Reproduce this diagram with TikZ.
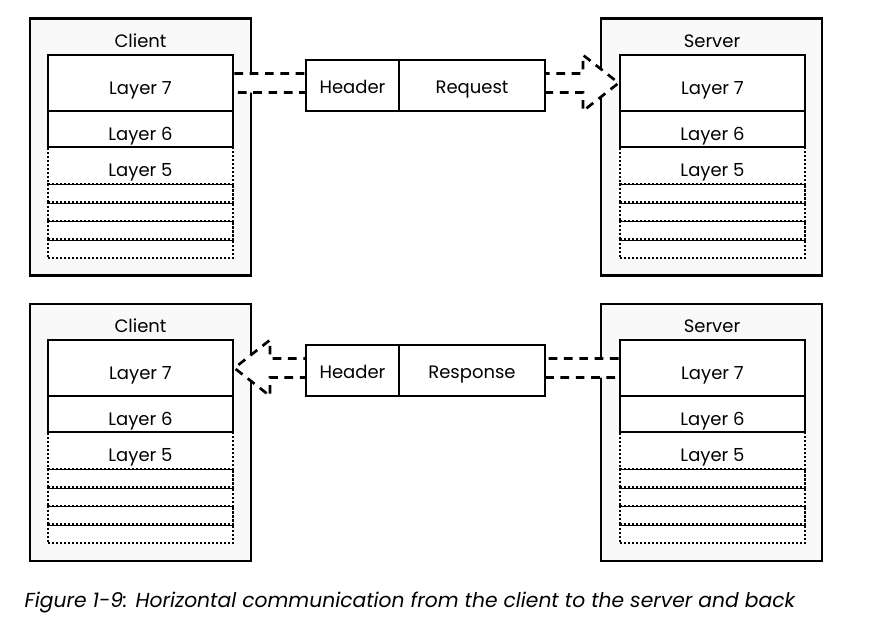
\documentclass[tikz,border=0pt]{standalone}
\usepackage{fontspec}
\setmainfont{Poppins}
\usetikzlibrary{positioning,calc}
\definecolor{boxgray}{HTML}{F9F9F9}
\tikzset{host box/.style={draw,line width=2pt,fill=boxgray,minimum width=165.75pt,minimum height=192.75pt,anchor=north west,outer sep=0pt},
  host title/.style={anchor=base},
  layer base/.style={draw,line width=2pt,fill=white,minimum width=138.75pt,inner sep=0pt,outer sep=0pt},
  layer node/.style={layer base,text height=16.5pt,text depth=0pt},
  dotted layer/.style={layer node,line width=2pt,dash pattern=on 1.6pt off 1.4pt},
  row node/.style={layer base,line width=2pt,dash pattern=on 1.6pt off 1.4pt,minimum height=13.875pt},
  msg node/.style={draw,line width=2pt,fill=white,minimum height=38.25pt,inner sep=0pt,outer sep=0pt,anchor=north west,text height=12.5pt,text depth=0pt},
  flow/.style={draw,fill=white,line width=2pt,dash pattern=on 6.5pt off 5pt},}

\begin{document}
\begin{tikzpicture}[x=0.75pt,y=-0.75pt,font=\fontsize{13.5}{16}\selectfont]
        \useasboundingbox (0,0) rectangle (877,622);
        % Hosts
        \node[host box] (cbox) at (30,18.5) {};
        \node[host box] (sbox) at (601,18.5) {};
        \node[host box] (cbbox) at (30,304) {};
        \node[host box] (sbbox) at (601,304) {};
        \node[host title] (ct) at (140.5,47.5) {Client};
        \node[host title] (st) at (712,47.5) {Server};
        \node[host title] (cbt) at (140.5,332.5) {Client};
        \node[host title] (sbt) at (712,332.5) {Server};
        % Client stack (top)
        \node[row node,anchor=south west] (c1) at (48,258) {};
        \node[row node] (c2) [above=0pt of c1] {};
        \node[row node] (c3) [above=0pt of c2] {};
        \node[row node] (c4) [above=0pt of c3] {};
        \node[dotted layer,minimum height=27.75pt] (c5) [above=0pt of c4] {Layer 5};
        \node[layer node,minimum height=27pt] (c6) [above=0pt of c5] {Layer 6};
        \node[layer node,minimum height=42pt] (c7) [above=0pt of c6] {Layer 7};
        % Server stack (top)
        \node[row node,anchor=south west] (s1) at (620,258) {};
        \node[row node] (s2) [above=0pt of s1] {};
        \node[row node] (s3) [above=0pt of s2] {};
        \node[row node] (s4) [above=0pt of s3] {};
        \node[dotted layer,minimum height=27.75pt] (s5) [above=0pt of s4] {Layer 5};
        \node[layer node,minimum height=27pt] (s6) [above=0pt of s5] {Layer 6};
        \node[layer node,minimum height=42pt] (s7) [above=0pt of s6] {Layer 7};
        % Client stack (bottom)
        \node[row node,anchor=south west] (cb1) at (48,543) {};
        \node[row node] (cb2) [above=0pt of cb1] {};
        \node[row node] (cb3) [above=0pt of cb2] {};
        \node[row node] (cb4) [above=0pt of cb3] {};
        \node[dotted layer,minimum height=27.75pt] (cb5) [above=0pt of cb4] {Layer 5};
        \node[layer node,minimum height=27pt] (cb6) [above=0pt of cb5] {Layer 6};
        \node[layer node,minimum height=42pt] (cb7) [above=0pt of cb6] {Layer 7};
        % Server stack (bottom)
        \node[row node,anchor=south west] (sb1) at (620,543) {};
        \node[row node] (sb2) [above=0pt of sb1] {};
        \node[row node] (sb3) [above=0pt of sb2] {};
        \node[row node] (sb4) [above=0pt of sb3] {};
        \node[dotted layer,minimum height=27.75pt] (sb5) [above=0pt of sb4] {Layer 5};
        \node[layer node,minimum height=27pt] (sb6) [above=0pt of sb5] {Layer 6};
        \node[layer node,minimum height=42pt] (sb7) [above=0pt of sb6] {Layer 7};
        % Flows
        \draw[flow] ($(c7.east)+(1.4,-9.5)$) -- ($(s7.west)+(-37,-9.5)$) -- ++(0,-18.5) -- ($(s7.west)+(-1.4,0)$) -- ($(s7.west)+(-37,28)$) -- ++(0,-18.5) -- ($(c7.east)+(1.4,9.5)$);
        \draw[flow] ($(sb7.west)+(-1.4,-9.5)$) -- ($(cb7.east)+(37,-9.5)$) -- ++(0,-18.5) -- ($(cb7.east)+(1.4,0)$) -- ($(cb7.east)+(37,28)$) -- ++(0,-18.5) -- ($(sb7.west)+(-1.4,9.5)$);
        % Messages
        \node[msg node,minimum width=69.75pt] (hdr) at (306,60) {Header};
        \node[msg node,minimum width=109.5pt] (req) [right=0pt of hdr] {Request};
        \node[msg node,minimum width=69.75pt] (hdrb) at (306,345) {Header};
        \node[msg node,minimum width=109.5pt] (resp) [right=0pt of hdrb] {Response};
        % Caption
        \node[anchor=base west,font=\fontsize{15.2}{18}\selectfont\itshape] (cap) at (20,607) {Figure 1-9: Horizontal communication from the client to the server and back};
    \end{tikzpicture}
\end{document}
